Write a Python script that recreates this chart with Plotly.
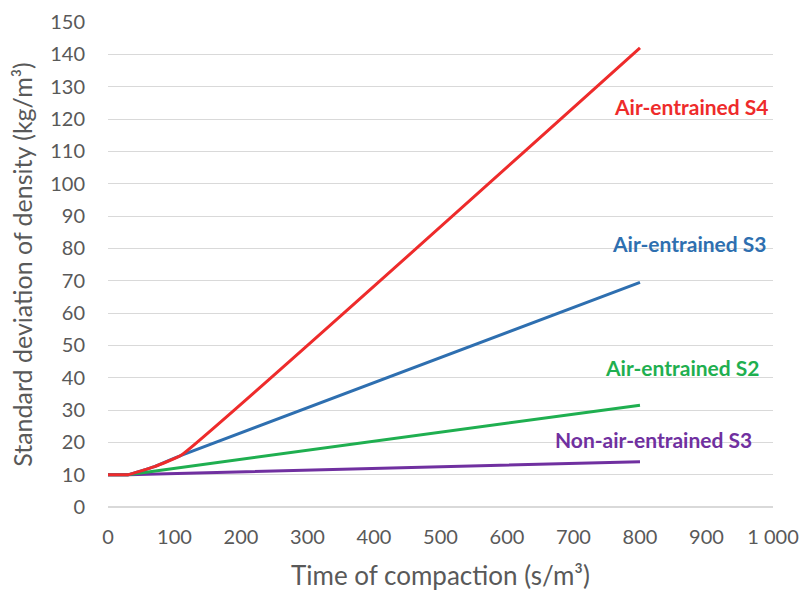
import plotly.graph_objects as go

x_s4 = [0, 30, 70, 110, 800]
y_s4 = [10, 10, 12.5, 16, 142]
x_s3 = [0, 30, 70, 110, 800]
y_s3 = [10, 10, 12.5, 16, 69.5]
x_s2 = [0, 30, 800]
y_s2 = [10, 10, 31.5]
x_n3 = [0, 30, 800]
y_n3 = [10, 10, 14]

labels = ["Air-entrained S4", "Air-entrained S3", "Air-entrained S2", "Non-air-entrained S3"]
label_x = [878, 874, 864, 820]
label_y = [124, 81.5, 43, 21]
colors = ["#EE2B2B", "#2E6FB0", "#1FAF50", "#7030A0"]

xtick_vals = list(range(0, 1001, 100))
xtick_text = [str(v) for v in range(0, 1000, 100)] + ["1 000"]

fig = go.Figure()
for xs, ys, c in [(x_n3, y_n3, colors[3]), (x_s2, y_s2, colors[2]),
                  (x_s3, y_s3, colors[1]), (x_s4, y_s4, colors[0])]:
    fig.add_trace(go.Scatter(x=xs, y=ys, mode="lines",
                             line=dict(color=c, width=3, shape="spline", smoothing=0.3),
                             showlegend=False))

for t, lx, ly, c in zip(labels, label_x, label_y, colors):
    fig.add_annotation(x=lx, y=ly, text="<b>" + t + "</b>", showarrow=False,
                       font=dict(color=c, size=21, family="Lato"))

fig.update_layout(
    width=803, height=591,
    margin=dict(l=108, r=30, t=22, b=84),
    paper_bgcolor="white", plot_bgcolor="white",
    font=dict(family="Lato", color="#595959"),
    xaxis=dict(range=[0, 1000], tickvals=xtick_vals, ticktext=xtick_text, automargin=False,
               showgrid=False, zeroline=False, showline=False,
               tickfont=dict(size=20, color="#595959"), ticklabelstandoff=16,
               title=dict(text="Time of compaction (s/m³)", font=dict(size=26, color="#595959"), standoff=22)),
    yaxis=dict(range=[0, 150], dtick=10, showgrid=True, gridcolor="#D9D9D9", gridwidth=1, automargin=False,
               zeroline=True, zerolinecolor="#D9D9D9", showline=False,
               tickfont=dict(size=20, color="#595959"), ticklabelstandoff=22,
               title=dict(text="Standard deviation of density (kg/m³)", font=dict(size=25, color="#595959"), standoff=10)),
)

fig.write_html("out.html")
